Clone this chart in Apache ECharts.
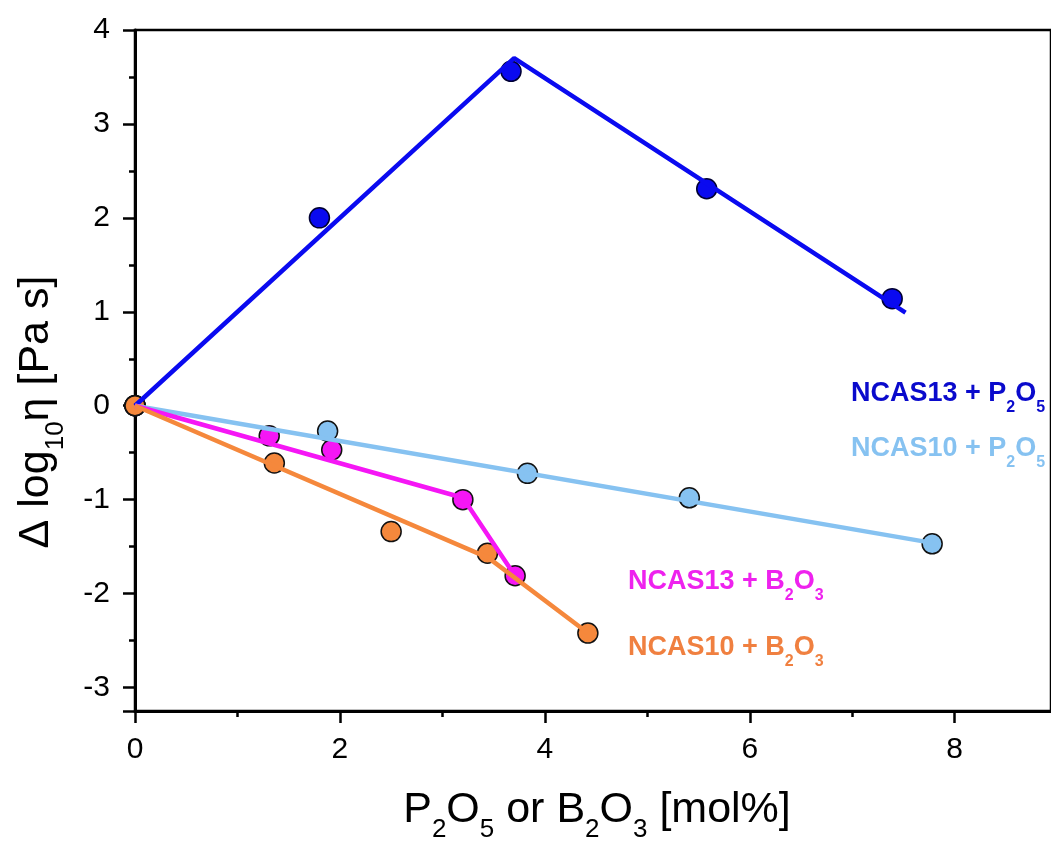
<!DOCTYPE html>
<html>
<head>
<meta charset="utf-8">
<script src="https://cdn.jsdelivr.net/npm/echarts@6/dist/echarts.min.js"></script>
<style>
  html, body { margin: 0; padding: 0; background: #fff; }
  #chart { width: 1051px; height: 841px; }
</style>
</head>
<body>
<div id="chart"></div>
<script>
// Measured points: Δ log10 η versus added P2O5 / B2O3 content
const ncas13P2O5X = [0, 1.80, 3.67, 5.58, 7.39];
const ncas13P2O5Y = [0, 2.00, 3.56, 2.31, 1.14];
const ncas10P2O5X = [0, 1.88, 3.83, 5.41, 7.78];
const ncas10P2O5Y = [0, -0.27, -0.72, -0.98, -1.47];
const ncas13B2O3X = [0, 1.31, 1.92, 3.20, 3.71];
const ncas13B2O3Y = [0, -0.32, -0.47, -1.00, -1.81];
const ncas10B2O3X = [0, 1.36, 2.50, 3.44, 4.42];
const ncas10B2O3Y = [0, -0.61, -1.34, -1.57, -2.42];

// Piecewise linear trend lines
const fit13P2O5X = [0, 3.70, 7.52];
const fit13P2O5Y = [0, 3.70, 0.99];
const fit10P2O5X = [0, 7.78];
const fit10P2O5Y = [0, -1.46];
const fit13B2O3X = [0, 3.20, 3.72];
const fit13B2O3Y = [0, -0.98, -1.83];
const fit10B2O3X = [0, 3.45, 4.42];
const fit10B2O3Y = [0, -1.62, -2.42];

// Axis ticks
const xMajorTicks = [0, 2, 4, 6, 8];
const xMinorTicks = [1, 3, 5, 7];

const FONT = '"Liberation Sans", Arial, sans-serif';
const zip = (xs, ys) => xs.map((x, i) => [x, ys[i]]);

function group(name, color, px, py, fx, fy, edge) {
  return [
    {
      name: name, type: 'scatter', data: zip(px, py), symbol: 'circle', symbolSize: 20,
      itemStyle: { color: color, borderColor: edge, borderWidth: 1.5, opacity: 1 },
      emphasis: { disabled: true }
    },
    {
      name: name + ' fit', type: 'line', data: zip(fx, fy), symbol: 'none',
      lineStyle: { color: color, width: 4.5 }, emphasis: { disabled: true }
    }
  ];
}

const series = [].concat(
  group('NCAS13 + P2O5', '#0A0AF0', ncas13P2O5X, ncas13P2O5Y, fit13P2O5X, fit13P2O5Y, '#000033'),
  group('NCAS10 + P2O5', '#86C2F1', ncas10P2O5X, ncas10P2O5Y, fit10P2O5X, fit10P2O5Y, '#111'),
  group('NCAS13 + B2O3', '#F516F5', ncas13B2O3X, ncas13B2O3Y, fit13B2O3X, fit13B2O3Y, '#111'),
  group('NCAS10 + B2O3', '#F5883C', ncas10B2O3X, ncas10B2O3Y, fit10B2O3X, fit10B2O3Y, '#111')
);

function seriesLabel(x, y, color, text) {
  return {
    type: 'text', left: x, top: y, z: 100,
    style: {
      text: text, fill: color,
      rich: {
        m: { fontFamily: FONT, fontSize: 27, fontWeight: 'bold', fill: color, lineHeight: 44 },
        s: { fontFamily: FONT, fontSize: 16, fontWeight: 'bold', fill: color, lineHeight: 16, verticalAlign: 'bottom' }
      }
    }
  };
}

const titleRich = {
  m: { fontFamily: FONT, fontSize: 43, fill: '#000', lineHeight: 66 },
  s: { fontFamily: FONT, fontSize: 26, fill: '#000', lineHeight: 26, verticalAlign: 'bottom' }
};

const XMAX = 8.94;
const tickStyle = { color: '#000', width: 2.5 };

const chart = echarts.init(document.getElementById('chart'), null, { renderer: 'canvas' });
chart.setOption({
  animation: false,
  backgroundColor: '#fff',
  grid: { left: 135, top: 30, right: 0, bottom: 130, show: true, borderColor: '#000', borderWidth: 2.5, backgroundColor: 'transparent' },
  xAxis: [
    {
      type: 'value', min: 0, max: XMAX, position: 'bottom', offset: 0,
      axisLine: { show: true, onZero: false, lineStyle: { color: '#000', width: 3 } },
      axisTick: { show: true, inside: false, length: 12, customValues: xMajorTicks, lineStyle: tickStyle },
      minorTick: { show: false },
      axisLabel: { fontFamily: FONT, fontSize: 30, color: '#000', margin: 24, customValues: xMajorTicks },
      splitLine: { show: false }
    },
    {
      type: 'value', min: 0, max: XMAX, position: 'bottom', offset: 0,
      axisLine: { show: false, onZero: false },
      axisTick: { show: true, inside: false, length: 6, customValues: xMinorTicks, lineStyle: tickStyle },
      axisLabel: { show: false },
      splitLine: { show: false }
    }
  ],
  yAxis: {
    type: 'value', min: -3.25, max: 4, splitNumber: 7,
    axisLine: { show: true, onZero: false, lineStyle: { color: '#000', width: 3 } },
    axisTick: { show: true, inside: false, length: 12, lineStyle: tickStyle },
    minorTick: { show: true, splitNumber: 2, length: 6, lineStyle: tickStyle },
    axisLabel: { fontFamily: FONT, fontSize: 30, color: '#000', margin: 25, showMinLabel: false,
      formatter: v => (Number.isInteger(v) ? String(v) : '') },
    splitLine: { show: false }
  },
  graphic: [
    {
      type: 'text', x: 597, y: 810, z: 100,
      style: {
        text: '{m|P}{s|2}{m|O}{s|5}{m| or B}{s|2}{m|O}{s|3}{m| [mol%]}',
        align: 'center', verticalAlign: 'middle', rich: titleRich
      }
    },
    {
      type: 'text', x: 36, y: 412, rotation: Math.PI / 2, z: 100,
      style: {
        text: '{m|Δ log}{s|10}{m|η [Pa s]}',
        align: 'center', verticalAlign: 'middle', rich: titleRich
      }
    },
    seriesLabel(851, 380, '#0A0ACC', '{m|NCAS13 + P}{s|2}{m|O}{s|5}'),
    seriesLabel(851, 435, '#86C2F1', '{m|NCAS10 + P}{s|2}{m|O}{s|5}'),
    seriesLabel(628, 568, '#EE22EE', '{m|NCAS13 + B}{s|2}{m|O}{s|3}'),
    seriesLabel(628, 634, '#F08040', '{m|NCAS10 + B}{s|2}{m|O}{s|3}')
  ],
  series: series
});
</script>
</body>
</html>
